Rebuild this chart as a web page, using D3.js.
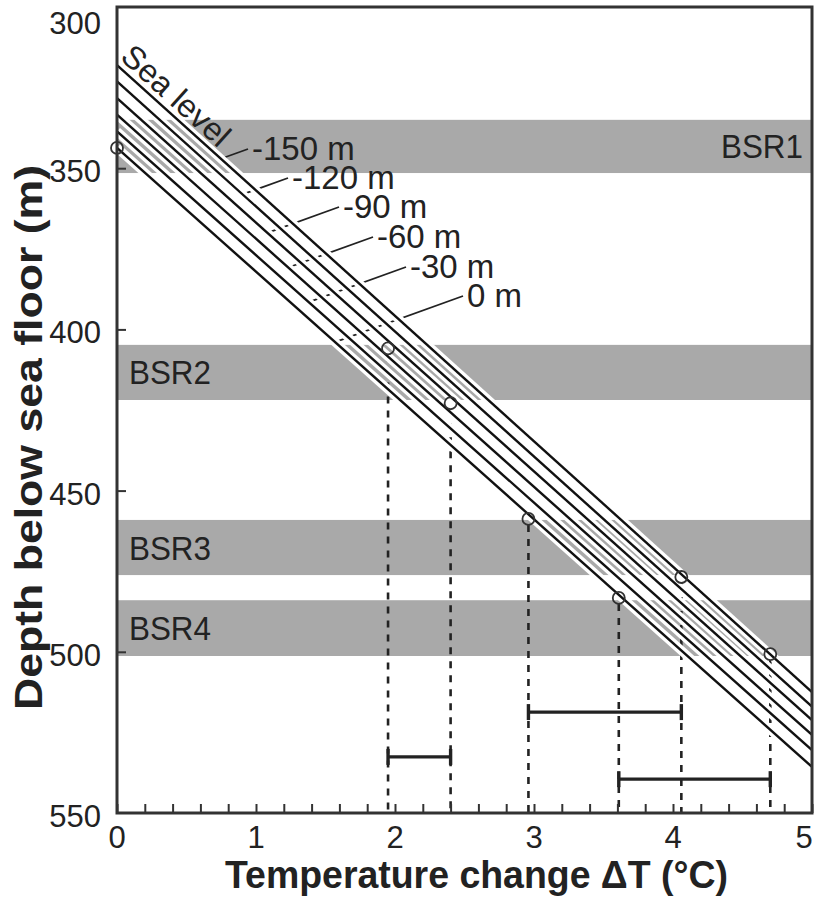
<!DOCTYPE html>
<html>
<head>
<meta charset="utf-8">
<script src="https://cdn.jsdelivr.net/npm/d3@7"></script>
<style>
html,body{margin:0;padding:0;background:#fff;}
svg{display:block;}
text{font-family:"Liberation Sans",Arial,Helvetica,sans-serif;fill:#222;}
</style>
</head>
<body>
<svg id="chart" width="816" height="898"></svg>
<script>
// ---- data ----
const seaLevels = ["-150 m", "-120 m", "-90 m", "-60 m", "-30 m", "0 m"];
const depthAtT0 = [318, 323.1, 328.3, 333.4, 338.6, 343.7];
const depthAtT5 = [512.5, 517, 521.2, 525.8, 530.5, 535.7];
const bsrNames = ["BSR1", "BSR2", "BSR3", "BSR4"];
const bsrTop = [335, 404.8, 459.1, 484];
const bsrBottom = [351.5, 421.9, 476.2, 501.3];
const pointT = [0, 1.95, 2.40, 2.96, 3.61, 4.06, 4.70];
const pointDepth = [343.7, 405.9, 422.9, 458.8, 483.3, 476.8, 500.7];
const rangeFrom = [1.95, 2.96, 3.61];
const rangeTo = [2.40, 4.06, 4.70];
const rangeDepth = [532.6, 518.7, 539.5];
const xTickValues = [0, 1, 2, 3, 4, 5];
const xMinorStep = 0.2;
const yTickValues = [300, 350, 400, 450, 500, 550];

// ---- layout ----
const svg = d3.select("#chart");
const L = 117, R = 812, T = 7, B = 813;
const x = d3.scaleLinear().domain([0, 5]).range([L, R]);
const y = d3.scaleLinear().domain([300, 550]).range([T, B]);

svg.append("defs").append("clipPath").attr("id", "plot")
  .append("rect").attr("x", L).attr("y", T).attr("width", R - L).attr("height", B - T);

const plot = svg.append("g").attr("clip-path", "url(#plot)");

// BSR bands
plot.selectAll("rect.bsr").data(bsrNames).enter().append("rect")
  .attr("class", "bsr")
  .attr("x", x(0)).attr("width", x(5) - x(0))
  .attr("y", (d, i) => y(bsrTop[i]))
  .attr("height", (d, i) => y(bsrBottom[i]) - y(bsrTop[i]))
  .attr("fill", "#a9a9a9");

// BSR labels
svg.selectAll("text.bsr").data(bsrNames).enter().append("text")
  .attr("class", "bsr")
  .attr("x", (d, i) => i === 0 ? R - 9 : L + 12)
  .attr("y", (d, i) => (y(bsrTop[i]) + y(bsrBottom[i])) / 2 + 12)
  .attr("text-anchor", (d, i) => i === 0 ? "end" : "start")
  .attr("font-size", 33)
  .attr("textLength", 82).attr("lengthAdjust", "spacingAndGlyphs")
  .text(d => d);

// dashed drop lines
const drops = d3.range(1, pointT.length);
plot.selectAll("line.drop").data(drops).enter().append("line")
  .attr("x1", i => x(pointT[i])).attr("x2", i => x(pointT[i]))
  .attr("y1", i => y(pointDepth[i]) + 6).attr("y2", B)
  .attr("stroke", "#222").attr("stroke-width", 2.6)
  .attr("stroke-dasharray", "7,7");

// line geometry helper (pixel space)
function lineY(i, px) {
  const t = x.invert(px);
  return y(depthAtT0[i] + (depthAtT5[i] - depthAtT0[i]) * t / 5);
}

// label positions (left x, baseline)
const labelPos = [[252, 160], [292, 189], [343, 218], [377, 248], [410, 278], [467, 307]];
const leaderSlope = 0.36;
const leaders = seaLevels.map((s, i) => {
  const x0 = labelPos[i][0] - 4, y0 = labelPos[i][1] - 11;
  const a = lineY(i, L);
  const m = (lineY(i, R) - a) / (R - L);
  const xe = (y0 + leaderSlope * x0 - a + L * m) / (m + leaderSlope);
  const ye = y0 + leaderSlope * (x0 - xe);
  return {x0, y0, xe, ye};
});
plot.selectAll("line.leader").data(leaders).enter().append("line")
  .attr("x1", d => d.x0).attr("y1", d => d.y0)
  .attr("x2", d => d.xe).attr("y2", d => d.ye)
  .attr("stroke", "#222").attr("stroke-width", 1.8);

// sea-level lines with white casing
const lineGen = d3.line().x(d => x(d[0])).y(d => y(d[1]));
const lineData = seaLevels.map((s, i) => [[0, depthAtT0[i]], [5, depthAtT5[i]]]);
plot.selectAll("path.casing").data(lineData).enter().append("path")
  .attr("d", lineGen).attr("fill", "none")
  .attr("stroke", "#fff").attr("stroke-width", 9);
plot.selectAll("path.sl").data(lineData).enter().append("path")
  .attr("d", lineGen).attr("fill", "none")
  .attr("stroke", "#111").attr("stroke-width", 2.4);

// circles
svg.selectAll("circle.pt").data(pointT).enter().append("circle")
  .attr("cx", (d) => x(d)).attr("cy", (d, i) => y(pointDepth[i]))
  .attr("r", 6).attr("fill", "none")
  .attr("stroke", "#333").attr("stroke-width", 1.8);

// range bars
const ranges = d3.range(rangeFrom.length);
const rg = svg.append("g").attr("stroke", "#222").attr("stroke-width", 3.4);
rg.selectAll("line.rb").data(ranges).enter().append("line")
  .attr("x1", i => x(rangeFrom[i])).attr("x2", i => x(rangeTo[i]))
  .attr("y1", i => y(rangeDepth[i])).attr("y2", i => y(rangeDepth[i]));
rg.selectAll("line.c1").data(ranges).enter().append("line")
  .attr("x1", i => x(rangeFrom[i])).attr("x2", i => x(rangeFrom[i]))
  .attr("y1", i => y(rangeDepth[i]) - 8).attr("y2", i => y(rangeDepth[i]) + 8);
rg.selectAll("line.c2").data(ranges).enter().append("line")
  .attr("x1", i => x(rangeTo[i])).attr("x2", i => x(rangeTo[i]))
  .attr("y1", i => y(rangeDepth[i]) - 8).attr("y2", i => y(rangeDepth[i]) + 8);

// line labels
svg.selectAll("text.sl").data(seaLevels).enter().append("text")
  .attr("x", (d, i) => labelPos[i][0]).attr("y", (d, i) => labelPos[i][1])
  .attr("font-size", 33).text(d => d);

// "Sea level" along top line
const ang = Math.atan2(lineY(0, R) - lineY(0, L), R - L) * 180 / Math.PI;
svg.append("text")
  .attr("transform", `translate(${L + 2},${lineY(0, L + 2) - 8}) rotate(${ang})`)
  .attr("font-size", 32)
  .attr("textLength", 134).attr("lengthAdjust", "spacingAndGlyphs")
  .text("Sea level");

// axes (ticks inward)
const xMinor = d3.range(0, 5 + 1e-9, xMinorStep).map(v => +v.toFixed(2));
const xAxis = d3.axisBottom(x).tickValues(xMinor).tickSize(-9).tickFormat("");
const gx = svg.append("g").attr("transform", `translate(0,${B})`).call(xAxis);
gx.select(".domain").remove();
gx.selectAll("line").attr("stroke", "#333").attr("stroke-width", 2);

const yAxis = d3.axisLeft(y).tickValues(yTickValues.slice(1, -1)).tickSize(-9).tickFormat("");
const gy = svg.append("g").attr("transform", `translate(${L},0)`).call(yAxis);
gy.select(".domain").remove();
gy.selectAll("line").attr("stroke", "#333").attr("stroke-width", 2);

// frame
svg.append("rect").attr("x", L).attr("y", T).attr("width", R - L).attr("height", B - T)
  .attr("fill", "none").attr("stroke", "#333").attr("stroke-width", 3);

// tick labels
svg.selectAll("text.xt").data(xTickValues).enter().append("text")
  .attr("x", d => Math.min(x(d), 804)).attr("y", 848)
  .attr("text-anchor", "middle").attr("font-size", 31)
  .attr("fill", "#333").text(d => d);
svg.selectAll("text.yt").data(yTickValues).enter().append("text")
  .attr("x", 101).attr("y", d => Math.max(y(d) + 3, 23) + 11)
  .attr("text-anchor", "end").attr("font-size", 31)
  .attr("fill", "#333").text(d => d);

// axis titles
svg.append("text")
  .attr("x", 225).attr("y", 888)
  .attr("font-size", 38).attr("font-weight", "bold")
  .attr("textLength", 503).attr("lengthAdjust", "spacingAndGlyphs")
  .text("Temperature change \u0394T (\u00B0C)");
svg.append("text")
  .attr("transform", "translate(42,710) rotate(-90)")
  .attr("font-size", 38).attr("font-weight", "bold")
  .attr("textLength", 545).attr("lengthAdjust", "spacingAndGlyphs")
  .text("Depth below sea floor (m)");
</script>
</body>
</html>
